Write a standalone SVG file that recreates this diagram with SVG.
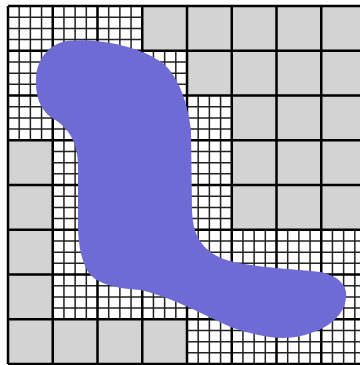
<svg xmlns="http://www.w3.org/2000/svg" width="360" height="365" viewBox="0 0 360 365">
<style>
.fine{fill:none;stroke:#222;stroke-width:1.5;vector-effect:non-scaling-stroke}
.thick{fill:none;stroke:#000;stroke-width:2.5;vector-effect:non-scaling-stroke}
.coarse{fill:#d3d3d3;stroke:none}
.blob{fill:#6e6cd4}
</style>
<rect width="360" height="365" fill="#fff"/>
<g id="mesh" transform="translate(8,6) scale(44.75)">
<path class="fine" d="M0.25 0V8M0.5 0V8M0.75 0V8M1.25 0V8M1.5 0V8M1.75 0V8M2.25 0V8M2.5 0V8M2.75 0V8M3.25 0V8M3.5 0V8M3.75 0V8M4.25 0V8M4.5 0V8M4.75 0V8M5.25 0V8M5.5 0V8M5.75 0V8M6.25 0V8M6.5 0V8M6.75 0V8M7.25 0V8M7.5 0V8M7.75 0V8M0 0.25H8M0 0.5H8M0 0.75H8M0 1.25H8M0 1.5H8M0 1.75H8M0 2.25H8M0 2.5H8M0 2.75H8M0 3.25H8M0 3.5H8M0 3.75H8M0 4.25H8M0 4.5H8M0 4.75H8M0 5.25H8M0 5.5H8M0 5.75H8M0 6.25H8M0 6.5H8M0 6.75H8M0 7.25H8M0 7.5H8M0 7.75H8"/>
<g id="coarse-cells">
<rect class="coarse" x="3" y="0" width="5" height="1"/>
<rect class="coarse" x="4" y="1" width="4" height="1"/>
<rect class="coarse" x="5" y="2" width="3" height="3"/>
<rect class="coarse" x="0" y="3" width="1" height="4"/>
<rect class="coarse" x="0" y="7" width="4" height="1"/>
</g>
<path class="thick" d="M0 0V8M1 0V8M2 0V8M3 0V8M4 0V8M5 0V8M6 0V8M7 0V8M8 0V8M0 0H8M0 1H8M0 2H8M0 3H8M0 4H8M0 5H8M0 6H8M0 7H8M0 8H8"/>
</g>
<path id="domain" class="blob" d="M67 41C95 38 140 45 165 65C180 80 188 105 191 130L192 210C193 232 198 244 215 255C235 267 285 268 320 272C340 276 348 287 346 298C344 315 330 328 305 335C280 342 255 335 233 328C210 318 170 296 140 290C110 288 92 282 86 268C80 255 78 240 78 225L78 165C78 145 70 128 52 118C40 110 35 95 36 78C37 60 48 44 67 41Z"/>
</svg>
